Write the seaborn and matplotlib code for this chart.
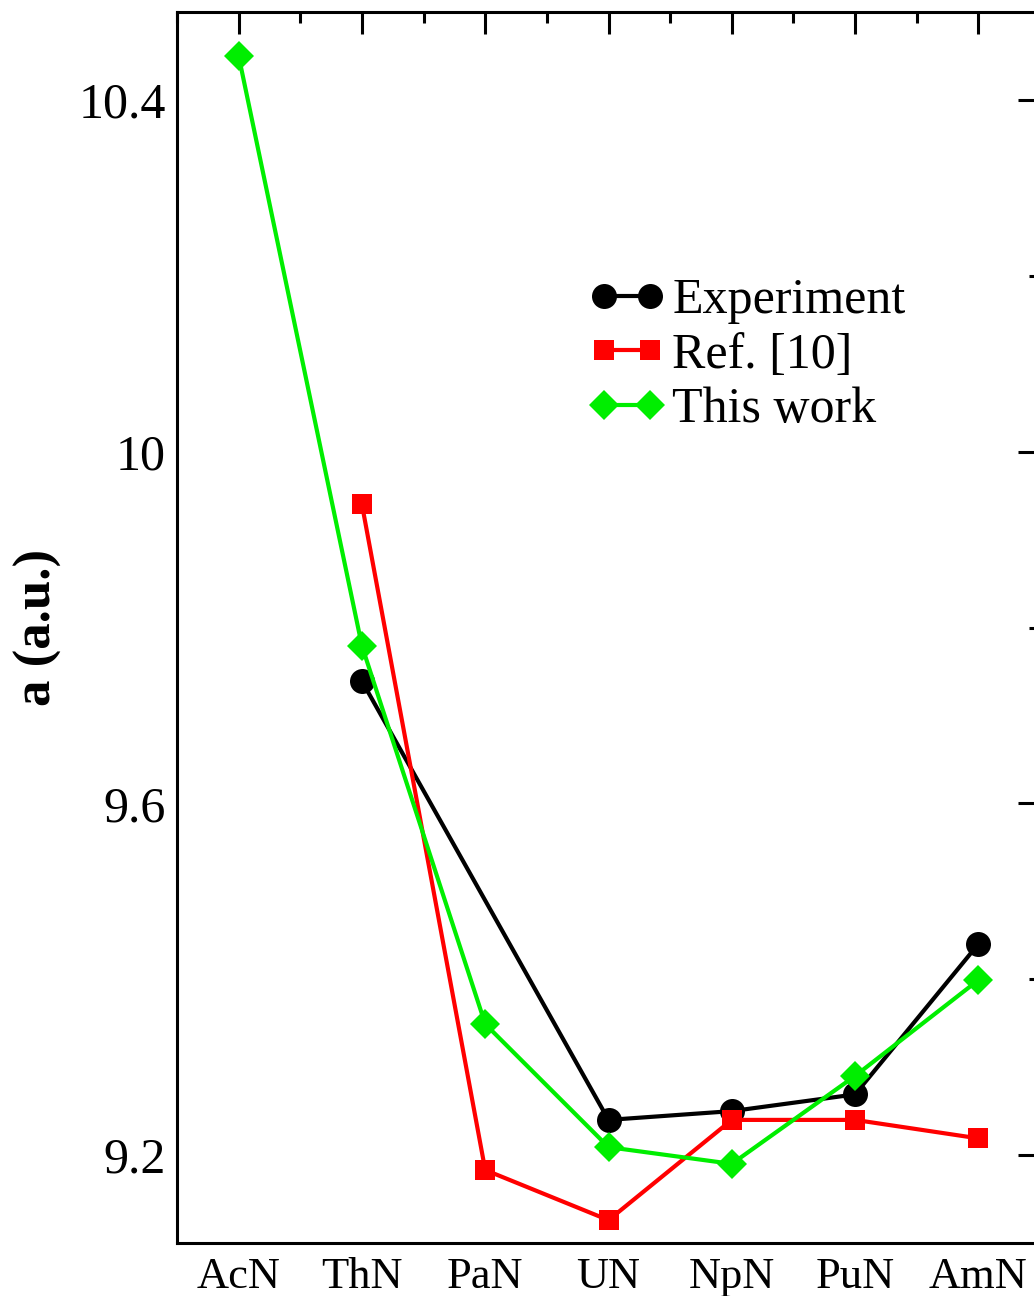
import numpy as np
import pandas as pd
import matplotlib
matplotlib.use("Agg")
import matplotlib.pyplot as plt
from matplotlib.lines import Line2D
from matplotlib.legend_handler import HandlerLine2D
from matplotlib.ticker import MultipleLocator, FuncFormatter
import seaborn as sns

categories = ["AcN", "ThN", "PaN", "UN", "NpN", "PuN", "AmN"]
experiment = [np.nan, 9.739, np.nan, 9.240, 9.250, 9.269, 9.440]
ref10 = [np.nan, 9.940, 9.183, 9.126, 9.240, 9.240, 9.219]
this_work = [10.450, 9.779, 9.349, 9.209, 9.190, 9.290, 9.399]
series_names = ["Experiment", "Ref. [10]", "This work"]

sns.set_theme(style="white")
plt.rcParams["font.family"] = ["Liberation Serif", "DejaVu Serif"]
for k in ["text.color", "axes.labelcolor", "xtick.color", "ytick.color", "axes.edgecolor"]:
    plt.rcParams[k] = "black"

fig = plt.figure(figsize=(10.34, 12.96), dpi=100)
ax = fig.add_axes([0.1712, 0.0409, 0.8346, 0.9498])

colors = ["black", "#ff0000", "#00ee00"]
markers = ["o", "s", "D"]
msizes = [18, 15, 15]
for name, vals, c, m, ms in zip(series_names, [experiment, ref10, this_work], colors, markers, msizes):
    df = pd.DataFrame({"x": np.arange(len(categories)), "y": vals}).dropna()
    sns.lineplot(data=df, x="x", y="y", ax=ax, color=c, marker=m, markersize=ms,
                 markeredgewidth=0, linewidth=3, label=name, sort=False)

ax.set_xlim(-0.5, 6.5)
ax.set_xticks(np.arange(len(categories)))
ax.set_xticklabels(categories)
ax.xaxis.set_minor_locator(MultipleLocator(0.5))
ax.yaxis.set_major_locator(MultipleLocator(0.4))
ax.yaxis.set_minor_locator(MultipleLocator(0.2))
ax.yaxis.set_major_formatter(FuncFormatter(lambda v, p: f"{v:g}"))
ax.set_ylim(9.1, 10.5)

ax.tick_params(axis="both", which="major", direction="in", length=16, width=2.2,
               top=True, right=True, colors="black")
ax.tick_params(axis="both", which="minor", direction="in", length=8, width=2.2,
               top=True, right=True, colors="black")
ax.tick_params(axis="x", which="major", pad=10, labelsize=32)
ax.tick_params(axis="y", which="major", pad=8, labelsize=36)
for s in ax.spines.values():
    s.set_linewidth(2.2)
    s.set_color("black")

ax.set_xlabel("")
ax.set_ylabel("a (a.u.)", fontsize=38, fontweight="bold", labelpad=12)

leg = ax.legend(loc="upper left", bbox_to_anchor=(0.495, 0.784), frameon=False,
                fontsize=36, numpoints=2, handlelength=0.92, handletextpad=0.44,
                labelspacing=0.16, borderaxespad=0, borderpad=0,
                handler_map={Line2D: HandlerLine2D(marker_pad=0)})

fig.savefig("out.png", dpi=100)
